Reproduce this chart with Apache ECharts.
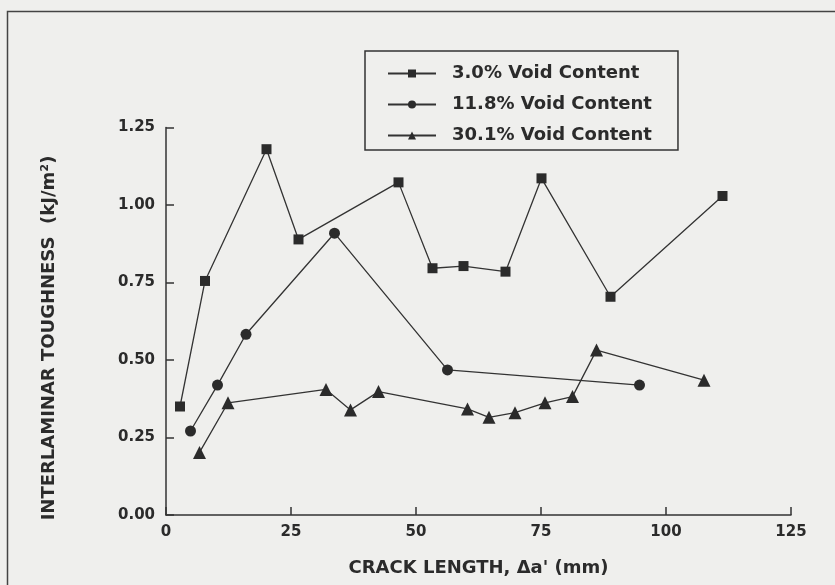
<!DOCTYPE html>
<html>
<head>
<meta charset="utf-8">
<script src="https://cdn.jsdelivr.net/npm/echarts@6/dist/echarts.min.js"></script>
<style>
html,body{margin:0;padding:0;background:#efefed;}
#c{width:835px;height:585px;}
</style>
</head>
<body>
<div id="c"></div>
<script>
var seriesNames = ['3.0% Void Content', '11.8% Void Content', '30.1% Void Content'];
var void30 = [[2.8,0.35],[7.8,0.755],[20.1,1.18],[26.5,0.889],[46.5,1.073],[53.3,0.796],[59.5,0.803],[67.9,0.785],[75.1,1.086],[88.9,0.704],[111.3,1.029]];
var void118 = [[4.9,0.271],[10.3,0.419],[16.0,0.583],[33.7,0.909],[56.3,0.468],[94.7,0.419]];
var void301 = [[6.7,0.202],[12.4,0.362],[32.0,0.405],[36.9,0.339],[42.5,0.398],[60.3,0.342],[64.6,0.315],[69.8,0.330],[75.8,0.362],[81.3,0.382],[86.1,0.532],[107.6,0.435]];
var xTicks = {min:0, max:125, interval:25};
var yTicks = {min:0, max:1.25, interval:0.25};
var xTitle = "CRACK LENGTH, \u0394a' (mm)";
var yTitle = "INTERLAMINAR TOUGHNESS  (kJ/m\u00B2)";

var ink = '#2b2b2b';
var font = 'DejaVu Sans';
var chart = echarts.init(document.getElementById('c'));
function mk(name, data, symbol, size){
  return {
    name: name, type: 'line', data: data, symbol: symbol, symbolSize: size,
    lineStyle: {color: '#333', width: 1.3},
    itemStyle: {color: ink},
    animation: false
  };
}
chart.setOption({
  backgroundColor: '#efefed',
  animation: false,
  grid: {left: 166, right: 44, top: 127.5, bottom: 70},
  legend: {
    orient: 'vertical', left: 365, top: 51,
    padding: [13.5, 26, 5.5, 22],
    itemWidth: 48, itemHeight: 10, itemGap: 13,
    borderColor: '#333', borderWidth: 1.5,
    textStyle: {fontFamily: font, fontWeight: 'bold', fontSize: 18, color: ink, padding: [0,0,0,11]},
    data: seriesNames
  },
  xAxis: {
    type: 'value', min: xTicks.min, max: xTicks.max, interval: xTicks.interval,
    name: xTitle, nameLocation: 'middle', nameGap: 44,
    nameTextStyle: {fontFamily: font, fontWeight: 'bold', fontSize: 18, color: ink},
    axisLine: {lineStyle: {color: '#333', width: 1.5}},
    axisTick: {inside: true, length: 8, lineStyle: {color: '#333', width: 1.5}},
    axisLabel: {margin: 10, fontFamily: font, fontWeight: 'bold', fontSize: 15, color: ink},
    splitLine: {show: false}
  },
  yAxis: {
    type: 'value', min: yTicks.min, max: yTicks.max, interval: yTicks.interval,
    axisLine: {show: true, lineStyle: {color: '#333', width: 1.5}},
    axisTick: {show: true, inside: true, length: 8, lineStyle: {color: '#333', width: 1.5}},
    axisLabel: {margin: 11, fontFamily: font, fontWeight: 'bold', fontSize: 15, color: ink,
      formatter: function(v){ return v.toFixed(2); }},
    splitLine: {show: false}
  },
  graphic: [
    {type: 'rect', left: 5, top: 9, silent: true,
      shape: {width: 900, height: 700},
      style: {fill: 'none', stroke: '#444', lineWidth: 1.5}, z: -1},
    {type: 'text', x: 49, y: 338, rotation: Math.PI/2,
      style: {text: yTitle, fontFamily: font, fontWeight: 'bold', fontSize: 18, fill: ink,
        textAlign: 'center', textVerticalAlign: 'middle'}}
  ],
  series: [
    mk(seriesNames[0], void30, 'rect', 10),
    mk(seriesNames[1], void118, 'circle', 11),
    mk(seriesNames[2], void301, 'triangle', 13)
  ]
});
</script>
</body>
</html>
